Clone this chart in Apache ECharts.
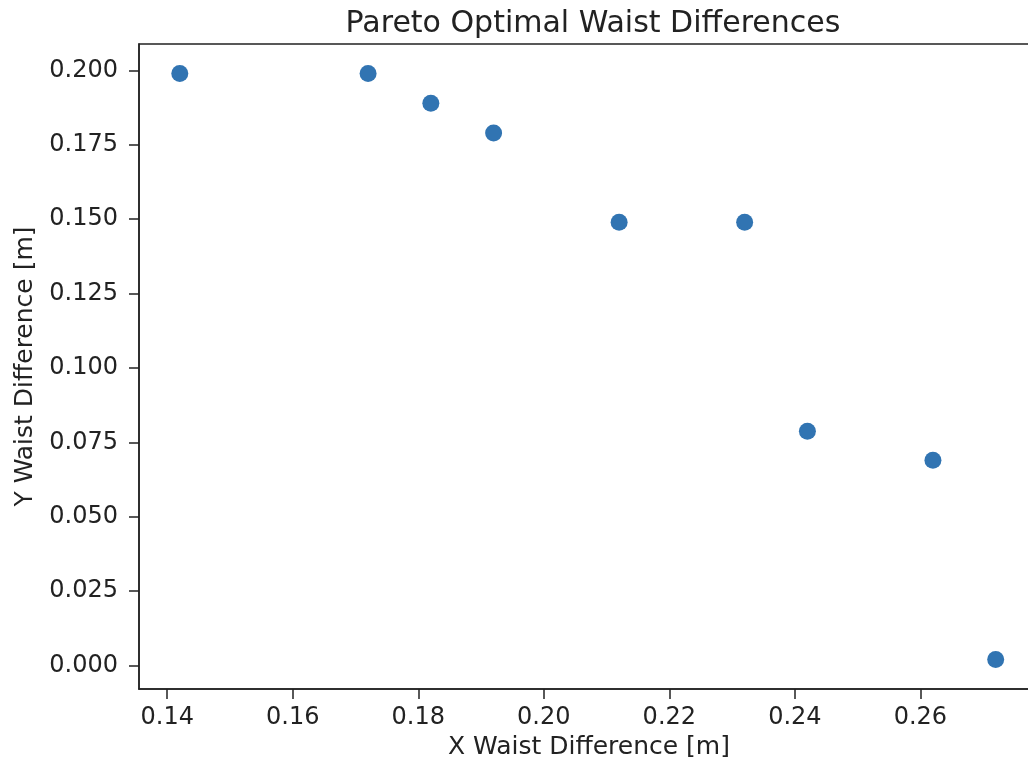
<!DOCTYPE html>
<html>
<head>
<meta charset="utf-8">
<script src="https://cdn.jsdelivr.net/npm/echarts@6/dist/echarts.min.js"></script>
<style>
    html, body { margin: 0; padding: 0; background: #fff; }
    #chart { width: 1028px; height: 764px; }
</style>
</head>
<body>
<div id="chart"></div>
<script>
// values
const xWaist = [0.142, 0.172, 0.182, 0.192, 0.212, 0.232, 0.242, 0.262, 0.272]
const yWaist = [0.199, 0.199, 0.189, 0.179, 0.149, 0.149, 0.0787, 0.069, 0.002]
const xTicks = [0.14, 0.16, 0.18, 0.20, 0.22, 0.24, 0.26]
const yTicks = [0.000, 0.025, 0.050, 0.075, 0.100, 0.125, 0.150, 0.175, 0.200]
const xLimits = [0.1355, 0.2789]
const yLimits = [-0.0079, 0.2089]

const font = 'DejaVu Sans'
const ink = '#222'

function getOption() {
    const points = xWaist.map((x, i) => [x, yWaist[i]])
    return {
        animation: false,
        backgroundColor: '#fff',
        title: {
            text: 'Pareto Optimal Waist Differences',
            left: 588,
            top: 4,
            textAlign: 'center',
            textStyle: {
                fontFamily: font,
                fontSize: 30,
                fontWeight: 'normal',
                color: ink
            }
        },
        grid: {
            left: 139,
            top: 44,
            width: 900,
            height: 645,
            outerBoundsMode: 'none',
            show: true,
            borderColor: ink,
            borderWidth: 1.5,
            backgroundColor: 'transparent'
        },
        xAxis: {
            type: 'value',
            min: xLimits[0],
            max: xLimits[1],
            name: 'X Waist Difference [m]',
            nameLocation: 'middle',
            nameGap: 46,
            nameTextStyle: { fontFamily: font, fontSize: 25, color: ink },
            axisLine: { show: true, onZero: false, lineStyle: { color: ink, width: 1.5 } },
            axisTick: {
                show: true,
                length: 10,
                customValues: xTicks,
                lineStyle: { color: ink, width: 1.5 }
            },
            axisLabel: {
                customValues: xTicks,
                margin: 17,
                fontFamily: font,
                fontSize: 24,
                color: ink,
                formatter: v => v.toFixed(2)
            },
            splitLine: { show: false }
        },
        yAxis: {
            type: 'value',
            min: yLimits[0],
            max: yLimits[1],
            name: 'Y Waist Difference [m]',
            nameLocation: 'middle',
            nameGap: 100,
            nameTextStyle: { fontFamily: font, fontSize: 25, color: ink },
            axisLine: { show: true, onZero: false, lineStyle: { color: ink, width: 1.5 } },
            axisTick: {
                show: true,
                length: 10,
                customValues: yTicks,
                lineStyle: { color: ink, width: 1.5 }
            },
            axisLabel: {
                customValues: yTicks,
                margin: 21,
                fontFamily: font,
                fontSize: 24,
                color: ink,
                formatter: v => v.toFixed(3)
            },
            splitLine: { show: false }
        },
        series: [{
            type: 'scatter',
            data: points,
            symbolSize: 17,
            itemStyle: { color: '#3174b2', opacity: 1 }
        }]
    }
}

const myChart = echarts.init(document.getElementById('chart'))
myChart.setOption(getOption())
</script>
</body>
</html>
